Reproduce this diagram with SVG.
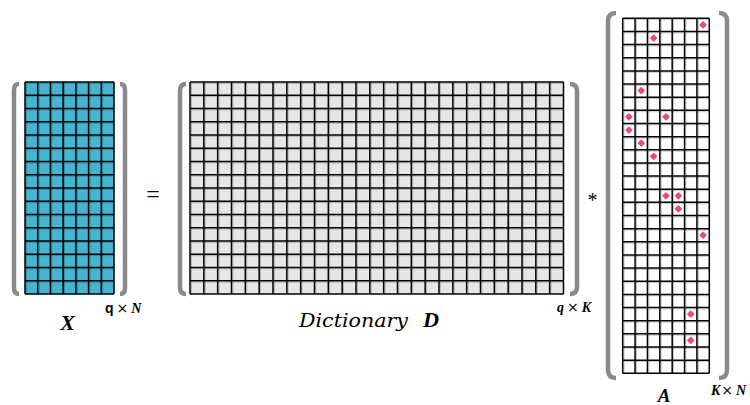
<svg xmlns="http://www.w3.org/2000/svg" xmlns:xlink="http://www.w3.org/1999/xlink" width="750" height="405" viewBox="0 0 750 405">
<style>
.bracket{fill:none;stroke:#8a8a8a;stroke-width:4.5}
.grid{fill:none;stroke:#000;stroke-width:1.5}
.shade{fill:none;stroke:#000;stroke-opacity:0.22;stroke-width:1}
.mi{font-family:"Liberation Serif","DejaVu Serif",serif;font-style:italic;font-weight:bold;fill:#000}
.it{font-family:"DejaVu Serif","Liberation Serif",serif;font-style:italic;fill:#000}
.op{font-family:"Liberation Serif","DejaVu Serif",serif;fill:#000}
.x{font-family:"DejaVu Sans","Liberation Sans",sans-serif;font-style:normal;font-weight:normal;fill:#000}
</style>
<defs>
<path id="dot" d="M0,-2.8 L2.8,0 L0,2.8 L-2.8,0Z" fill="#e8488a" stroke="#e8488a" stroke-width="1.6" stroke-linejoin="round"/>
<clipPath id="cx"><rect x="25" y="82" width="89" height="212"/></clipPath>
<clipPath id="cd"><rect x="190" y="82" width="373.5" height="212"/></clipPath>
<clipPath id="ca"><rect x="622.7" y="18.3" width="86.6" height="355"/></clipPath>
<path id="gx" d="M25,82V294M37.71,82V294M50.43,82V294M63.14,82V294M75.86,82V294M88.57,82V294M101.29,82V294M114,82V294M25,82H114M25,95.25H114M25,108.5H114M25,121.75H114M25,135H114M25,148.25H114M25,161.5H114M25,174.75H114M25,188H114M25,201.25H114M25,214.5H114M25,227.75H114M25,241H114M25,254.25H114M25,267.5H114M25,280.75H114M25,294H114"/>
<path id="gd" d="M190,82V294M203.83,82V294M217.67,82V294M231.5,82V294M245.33,82V294M259.17,82V294M273,82V294M286.83,82V294M300.67,82V294M314.5,82V294M328.33,82V294M342.17,82V294M356,82V294M369.83,82V294M383.67,82V294M397.5,82V294M411.33,82V294M425.17,82V294M439,82V294M452.83,82V294M466.67,82V294M480.5,82V294M494.33,82V294M508.17,82V294M522,82V294M535.83,82V294M549.67,82V294M563.5,82V294M190,82H563.5M190,95.25H563.5M190,108.5H563.5M190,121.75H563.5M190,135H563.5M190,148.25H563.5M190,161.5H563.5M190,174.75H563.5M190,188H563.5M190,201.25H563.5M190,214.5H563.5M190,227.75H563.5M190,241H563.5M190,254.25H563.5M190,267.5H563.5M190,280.75H563.5M190,294H563.5"/>
<path id="ga" d="M622.7,18.3V373.3M635.07,18.3V373.3M647.44,18.3V373.3M659.81,18.3V373.3M672.19,18.3V373.3M684.56,18.3V373.3M696.93,18.3V373.3M709.3,18.3V373.3M622.7,18.3H709.3M622.7,31.45H709.3M622.7,44.6H709.3M622.7,57.74H709.3M622.7,70.89H709.3M622.7,84.04H709.3M622.7,97.19H709.3M622.7,110.34H709.3M622.7,123.48H709.3M622.7,136.63H709.3M622.7,149.78H709.3M622.7,162.93H709.3M622.7,176.08H709.3M622.7,189.22H709.3M622.7,202.37H709.3M622.7,215.52H709.3M622.7,228.67H709.3M622.7,241.82H709.3M622.7,254.96H709.3M622.7,268.11H709.3M622.7,281.26H709.3M622.7,294.41H709.3M622.7,307.56H709.3M622.7,320.7H709.3M622.7,333.85H709.3M622.7,347H709.3M622.7,360.15H709.3M622.7,373.3H709.3"/>
</defs>
<rect width="750" height="405" fill="#fff"/>

<g id="node-X">
<rect x="25" y="82" width="89" height="212" fill="#46b5d2"/>
<g clip-path="url(#cx)"><use xlink:href="#gx" class="shade" transform="translate(1.4,1.4)"/></g>
<use xlink:href="#gx" class="grid"/>
<path class="bracket" d="M19,84 Q14,84 14,90 V288 Q14,294 19,294"/>
<path class="bracket" d="M120,84 Q125,84 125,90 V288 Q125,294 120,294"/>
<text class="mi" x="67.5" y="330" font-size="22" text-anchor="middle">X</text>
<text x="105" y="313" font-size="14"><tspan font-family="'Liberation Sans',Arial,sans-serif" font-weight="bold">q</tspan><tspan class="x" dx="3">×</tspan><tspan class="mi" dx="3">N</tspan></text>
</g>

<g id="op-eq"><text class="op" x="153" y="202" font-size="24" text-anchor="middle">=</text></g>

<g id="node-D">
<rect x="190" y="82" width="373.5" height="212" fill="#e6e6e6"/>
<g clip-path="url(#cd)"><use xlink:href="#gd" class="shade" transform="translate(1.4,1.4)"/></g>
<use xlink:href="#gd" class="grid"/>
<path class="bracket" d="M186,84 Q180,84 180,91 V288 Q180,294 186,294"/>
<path class="bracket" d="M570,84 Q577,84 577,91 V287 Q577,294 570,294"/>
<text class="it" x="299" y="327" font-size="19" textLength="109" lengthAdjust="spacingAndGlyphs">Dictionary</text>
<text class="mi" x="423" y="327" font-size="20" textLength="16" lengthAdjust="spacingAndGlyphs">D</text>
<text x="557" y="312" font-size="14"><tspan class="mi">q</tspan><tspan class="x" dx="3">×</tspan><tspan class="mi" dx="3">K</tspan></text>
</g>

<g id="op-mul"><text class="op" x="592.5" y="206.5" font-size="20" text-anchor="middle">*</text></g>

<g id="node-A">
<rect x="622.7" y="18.3" width="86.6" height="355" fill="#fff"/>
<g clip-path="url(#ca)"><use xlink:href="#ga" class="shade" transform="translate(1.4,1.4)"/></g>
<use xlink:href="#ga" class="grid"/>
<use xlink:href="#dot" x="703.11" y="24.87"/>
<use xlink:href="#dot" x="653.63" y="38.02"/>
<use xlink:href="#dot" x="641.26" y="90.61"/>
<use xlink:href="#dot" x="628.9" y="116.9"/>
<use xlink:href="#dot" x="666" y="116.9"/>
<use xlink:href="#dot" x="628.9" y="130.05"/>
<use xlink:href="#dot" x="641.26" y="143.2"/>
<use xlink:href="#dot" x="653.63" y="156.35"/>
<use xlink:href="#dot" x="666" y="195.79"/>
<use xlink:href="#dot" x="678.37" y="195.79"/>
<use xlink:href="#dot" x="678.37" y="208.94"/>
<use xlink:href="#dot" x="703.11" y="235.24"/>
<use xlink:href="#dot" x="690.74" y="314.12"/>
<use xlink:href="#dot" x="690.74" y="340.42"/>
<path class="bracket" d="M616,13 Q608,13 608,21 V370 Q608,378 616,378"/>
<path class="bracket" d="M719,13 Q727,13 727,21 V370 Q727,378 719,378"/>
<text class="mi" x="664" y="402" font-size="19" text-anchor="middle">A</text>
<text x="711" y="395" font-size="14"><tspan class="mi">K</tspan><tspan class="x" dx="1">×</tspan><tspan class="mi" dx="3">N</tspan></text>
</g>
</svg>
